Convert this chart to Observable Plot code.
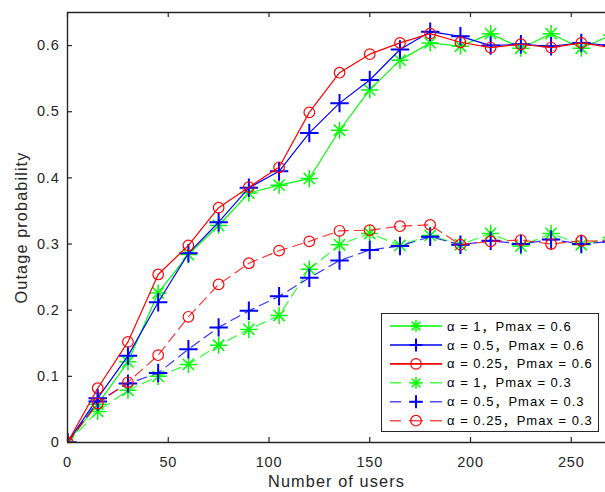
<!DOCTYPE html>
<html><head><meta charset="utf-8">
<script src="https://cdn.jsdelivr.net/npm/d3@7"></script>
<script src="https://cdn.jsdelivr.net/npm/@observablehq/plot@0.6"></script>
<style>
body{margin:0;background:#fff;}
#wrap{position:relative;width:605px;height:492px;overflow:hidden;}
#legend{position:absolute;left:381px;top:313px;}
</style></head><body><div id="wrap"></div>
<script>
// ---- data ----
const users = [0, 15, 30, 45, 60, 75, 90, 105, 120, 135, 150, 165, 180, 195, 210, 225, 240, 255, 270];
const a1_p06   = [0, 0.058, 0.122, 0.226, 0.284, 0.328, 0.377, 0.389, 0.399, 0.472, 0.533, 0.578, 0.604, 0.599, 0.618, 0.596, 0.618, 0.596, 0.616];
const a05_p06  = [0, 0.067, 0.131, 0.212, 0.286, 0.333, 0.385, 0.410, 0.468, 0.513, 0.548, 0.594, 0.621, 0.614, 0.600, 0.602, 0.599, 0.604, 0.600];
const a025_p06 = [0, 0.082, 0.152, 0.254, 0.298, 0.355, 0.386, 0.416, 0.499, 0.559, 0.587, 0.604, 0.618, 0.605, 0.597, 0.602, 0.597, 0.604, 0.597];
const a1_p03   = [0, 0.047, 0.079, 0.100, 0.118, 0.147, 0.171, 0.192, 0.262, 0.299, 0.316, 0.298, 0.313, 0.299, 0.316, 0.297, 0.316, 0.299, 0.310];
const a05_p03  = [0, 0.062, 0.089, 0.105, 0.141, 0.174, 0.199, 0.221, 0.249, 0.275, 0.291, 0.297, 0.311, 0.299, 0.305, 0.300, 0.307, 0.300, 0.304];
const a025_p03 = [0, 0.059, 0.091, 0.132, 0.190, 0.239, 0.271, 0.290, 0.304, 0.320, 0.321, 0.327, 0.329, 0.299, 0.304, 0.306, 0.300, 0.305, 0.304];
const seriesNames = ["α = 1，Pmax = 0.6", "α = 0.5，Pmax = 0.6", "α = 0.25，Pmax = 0.6",
                     "α = 1，Pmax = 0.3", "α = 0.5，Pmax = 0.3", "α = 0.25，Pmax = 0.3"];
const xTicks = [0, 50, 100, 150, 200, 250];
const yTicks = [0, 0.1, 0.2, 0.3, 0.4, 0.5, 0.6];
const xLabel = "Number of users";
const yLabel = "Outage probability";

// ---- styling ----
const seriesData = [a1_p06, a05_p06, a025_p06, a1_p03, a05_p03, a025_p03];
const colors = ["#00ff00", "#0000ff", "#ff0000", "#00ff00", "#0000ff", "#ff0000"];
const markerKind = ["asterisk", "plus", "circle", "asterisk", "plus", "circle"];
const dashed = [false, false, false, true, true, true];
const axisColor = "#262626";
const font = "'Liberation Sans', Arial, sans-serif";
const legendFont = "'Liberation Sans', Arial, 'Noto Sans CJK SC', sans-serif";
const W = 605, H = 492, mL = 67, mR = 0, mT = 12, mB = 50;
const xDomain = [0, 267], yDomain = [0, 0.65];
const frameW = W - mL - mR, frameH = H - mT - mB, tick = 5;

const marks = [];
seriesData.forEach((vals, s) => {
  const rows = users.map((u, i) => ({x: u, y: vals[i]}));
  marks.push(Plot.line(rows, {x: "x", y: "y", stroke: colors[s], strokeWidth: 1.2,
    strokeOpacity: dashed[s] ? 0.8 : 1, strokeDasharray: dashed[s] ? "10,6" : null, clip: true}));
  const k = markerKind[s];
  if (k === "circle") {
    marks.push(Plot.dot(rows, {x: "x", y: "y", r: 5.3, stroke: colors[s], strokeWidth: 1.2, fill: "none", clip: true}));
  } else if (k === "plus") {
    marks.push(Plot.dot(rows, {x: "x", y: "y", symbol: "plus", r: 6, stroke: colors[s], strokeWidth: 2, fill: "none", clip: true}));
  } else {
    marks.push(Plot.dot(rows, {x: "x", y: "y", symbol: "plus", r: 5.6, stroke: colors[s], strokeWidth: 1.5, fill: "none", clip: true}));
    marks.push(Plot.dot(rows, {x: "x", y: "y", symbol: "times", r: 5.2, stroke: colors[s], strokeWidth: 1.5, fill: "none", clip: true}));
  }
});

const chart = Plot.plot({
  width: W, height: H,
  marginLeft: mL, marginRight: mR, marginTop: mT, marginBottom: mB,
  style: {fontFamily: font, fontSize: "14.5px", color: axisColor, background: "#fff", letterSpacing: "0.8px"},
  x: {domain: xDomain, axis: null},
  y: {domain: yDomain, axis: null},
  marks: [
    ...marks,
    Plot.ruleY([yDomain[0]], {stroke: axisColor, strokeWidth: 1.4}),
    Plot.ruleY([yDomain[1]], {stroke: axisColor, strokeWidth: 1.4}),
    Plot.ruleX([xDomain[0]], {stroke: axisColor, strokeWidth: 1.4}),
    Plot.tickX(xTicks, {x: d => d, stroke: axisColor, strokeWidth: 1.2, insetTop: frameH - tick}),
    Plot.tickX(xTicks, {x: d => d, stroke: axisColor, strokeWidth: 1.2, insetBottom: frameH - tick}),
    Plot.tickY(yTicks, {y: d => d, stroke: axisColor, strokeWidth: 1.2, insetRight: frameW - tick}),
    Plot.axisX({ticks: xTicks, tickSize: 0, tickPadding: 14, label: null, fill: axisColor}),
    Plot.axisY({ticks: yTicks, tickSize: 0, tickPadding: 8, label: null, fill: axisColor,
      tickFormat: d => d === 0 ? "0" : d.toFixed(1)}),
    Plot.text([xLabel], {frameAnchor: "bottom", lineAnchor: "middle", textAnchor: "middle", dy: 39, text: d => d, fontSize: 16.3, fill: axisColor}),
    Plot.text([yLabel], {frameAnchor: "left", lineAnchor: "middle", textAnchor: "middle", dx: -46, rotate: -90, text: d => d, fontSize: 16.3, fill: axisColor})
  ]
});
const wrap = document.getElementById("wrap");
wrap.appendChild(chart);
d3.select(chart).selectAll("text").filter(function(){ return this.textContent === yLabel || this.textContent === xLabel; }).style("letter-spacing", "1.1px");

// ---- legend (HTML overlay with small SVG) ----
const lw = 218, lh = 119, rowY0 = 13, rowStep = 18.94;
const leg = d3.select(wrap).append("svg").attr("id", "legend").attr("width", lw + 1).attr("height", lh + 1);
leg.append("rect").attr("x", 0.5).attr("y", 0.5).attr("width", lw - 1).attr("height", lh - 1)
  .attr("fill", "#fff").attr("stroke", axisColor).attr("stroke-width", 1);
seriesNames.forEach((name, s) => {
  const y = rowY0 + s * rowStep, g = leg.append("g").attr("transform", `translate(0,${y})`);
  const c = colors[s], mx = 35;
  g.append("line").attr("x1", 9).attr("x2", 61).attr("y1", 0).attr("y2", 0)
    .attr("stroke", c).attr("stroke-width", 1.6).attr("stroke-opacity", dashed[s] ? 0.7 : 1)
    .attr("stroke-dasharray", dashed[s] ? "11,8,14,7,12" : null);
  if (markerKind[s] === "circle") {
    g.append("circle").attr("cx", mx).attr("cy", 0).attr("r", 5.3).attr("fill", "none").attr("stroke", c).attr("stroke-width", 1.2);
  } else if (markerKind[s] === "plus") {
    g.append("path").attr("d", `M${mx-6.5},0H${mx+6.5}M${mx},-6.5V6.5`).attr("stroke", c).attr("stroke-width", 2);
  } else {
    g.append("path").attr("d", `M${mx-6},0H${mx+6}M${mx},-6V6M${mx-4.4},-4.4L${mx+4.4},4.4M${mx-4.4},4.4L${mx+4.4},-4.4`).attr("stroke", c).attr("stroke-width", 1.5);
  }
  g.append("text").attr("x", 66).attr("y", 0).attr("dy", "0.35em").text(name)
    .attr("font-family", legendFont).attr("font-size", 13).attr("letter-spacing", "1px").attr("fill", "#000");
});
</script></body></html>
